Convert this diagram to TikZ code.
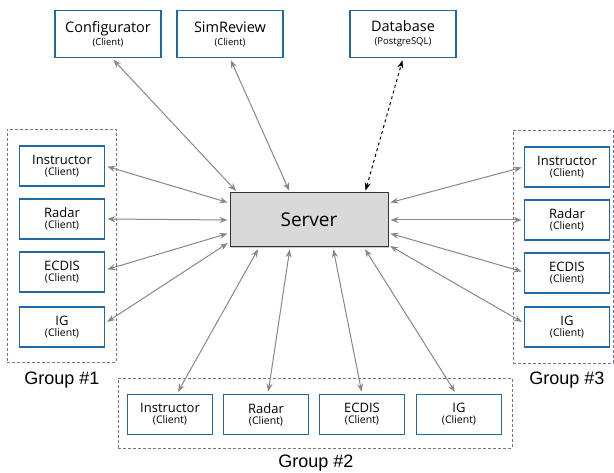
\documentclass[tikz,border=0pt]{standalone}
\usepackage{fontspec}
\setmainfont{Open Sans}
\newfontfamily\grpfont{Liberation Sans}
\usepackage{tikz}
\usetikzlibrary{arrows.meta,shadows}

\definecolor{boxblue}{RGB}{31,105,165}
\definecolor{grpline}{RGB}{125,110,160}
\definecolor{linkgray}{RGB}{135,135,140}

\tikzset{
  topbox/.style={rectangle,draw=boxblue,line width=1.7pt,fill=white,
    minimum width=106pt,minimum height=47pt,inner sep=0pt,align=center,
    font=\fontsize{14.5}{15}\selectfont},
  clientbox/.style={rectangle,draw=boxblue,line width=1.7pt,fill=white,
    minimum width=85pt,minimum height=40pt,inner sep=0pt,align=center,
    font=\fontsize{13}{14}\selectfont},
  serverbox/.style={rectangle,draw=black!80,line width=1pt,fill=black!15,
    minimum width=158pt,minimum height=54pt,inner sep=0pt,
    drop shadow={shadow xshift=1pt,shadow yshift=-1pt,opacity=0.4},
    font=\fontsize{19}{20}\selectfont},
  grpbox/.style={rectangle,draw=grpline,densely dashed,line width=0.6pt,
    inner sep=0pt},
  grplabel/.style={font=\grpfont\fontsize{18}{19}\selectfont},
  link/.style={draw=linkgray,line width=1pt,
    {Stealth[length=8pt,width=6pt]}-{Stealth[length=8pt,width=6pt]},
    shorten <=2pt,shorten >=2pt},
  dblink/.style={draw=black,line width=1pt,dashed,
    {Stealth[length=8pt,width=6pt]}-{Stealth[length=8pt,width=6pt]},
    shorten <=2pt,shorten >=2pt}
}
\newcommand{\cl}[1]{#1\\[-3pt]{\fontsize{10.5}{11}\selectfont(Client)}}

\begin{document}
\begin{tikzpicture}[x=1pt,y=-1pt]
\useasboundingbox (0,0) rectangle (614,473);

 % top row
 \node at (108,34) [topbox] (cfg) {Configurator\\[-2pt]{\fontsize{9.5}{10}\selectfont(Client)}};
 \node at (230,34) [topbox] (rev) {SimReview\\[-2pt]{\fontsize{9.5}{10}\selectfont(Client)}};
 \node at (403,34) [topbox] (db) {Database\\[-2pt]{\fontsize{9.5}{10}\selectfont(PostgreSQL)}};

 % server
 \node at (309,220) [serverbox] (srv) {Server};

 % group 1
 \node at (61.5,245.5) [grpbox,minimum width=109pt,minimum height=233pt] (grp1) {};
 \node at (62,166) [clientbox] (ins1) {\cl{Instructor}};
 \node at (62,219) [clientbox] (rad1) {\cl{Radar}};
 \node at (62,272) [clientbox] (ecd1) {\cl{ECDIS}};
 \node at (62,327) [clientbox] (ig1) {\cl{IG}};
 \node at (62,380) [grplabel] (lab1) {Group \#1};

 % group 3
 \node at (563,246.5) [grpbox,minimum width=100pt,minimum height=233pt] (grp3) {};
 \node at (567,167) [clientbox] (ins3) {\cl{Instructor}};
 \node at (567,220) [clientbox] (rad3) {\cl{Radar}};
 \node at (567,273) [clientbox] (ecd3) {\cl{ECDIS}};
 \node at (567,327) [clientbox] (ig3) {\cl{IG}};
 \node at (567,380) [grplabel] (lab3) {Group \#3};

 % group 2
 \node at (315,413) [grpbox,minimum width=394pt,minimum height=70pt] (grp2) {};
 \node at (170,414.5) [clientbox] (ins2) {\cl{Instructor}};
 \node at (266,414.5) [clientbox] (rad2) {\cl{Radar}};
 \node at (362,414.5) [clientbox] (ecd2) {\cl{ECDIS}};
 \node at (459,414.5) [clientbox] (ig2) {\cl{IG}};
 \node at (316,463) [grplabel] (lab2) {Group \#2};

 % links
 \draw [link] ([xshift=8pt]srv.north west) -- ([xshift=4pt]cfg.south);
 \draw [link] ([xshift=-19pt]srv.north) -- (rev.south);
 \draw [dblink] ([xshift=56pt]srv.north) -- (db.south);

 \draw [link] ([yshift=17pt]srv.west) -- (ins1.east);
 \draw [link] (srv.west) -- (rad1.east);
 \draw [link] ([yshift=-13pt]srv.west) -- ([yshift=2pt]ecd1.east);
 \draw [link] ([yshift=-22pt]srv.west) -- ([yshift=4pt]ig1.east);

 \draw [link] ([yshift=17pt]srv.east) -- (ins3.west);
 \draw [link] (srv.east) -- (rad3.west);
 \draw [link] ([yshift=-13pt]srv.east) -- ([yshift=1pt]ecd3.west);
 \draw [link] ([yshift=-25pt]srv.east) -- ([yshift=4pt]ig3.west);

 \draw [link] ([xshift=-50pt]srv.south) -- ([xshift=7pt]ins2.north);
 \draw [link] ([xshift=-19pt]srv.south) -- ([xshift=2pt]rad2.north);
 \draw [link] ([xshift=24pt]srv.south) -- (ecd2.north);
 \draw [link] ([xshift=55pt]srv.south) -- ([xshift=-3pt]ig2.north);
\end{tikzpicture}
\end{document}
